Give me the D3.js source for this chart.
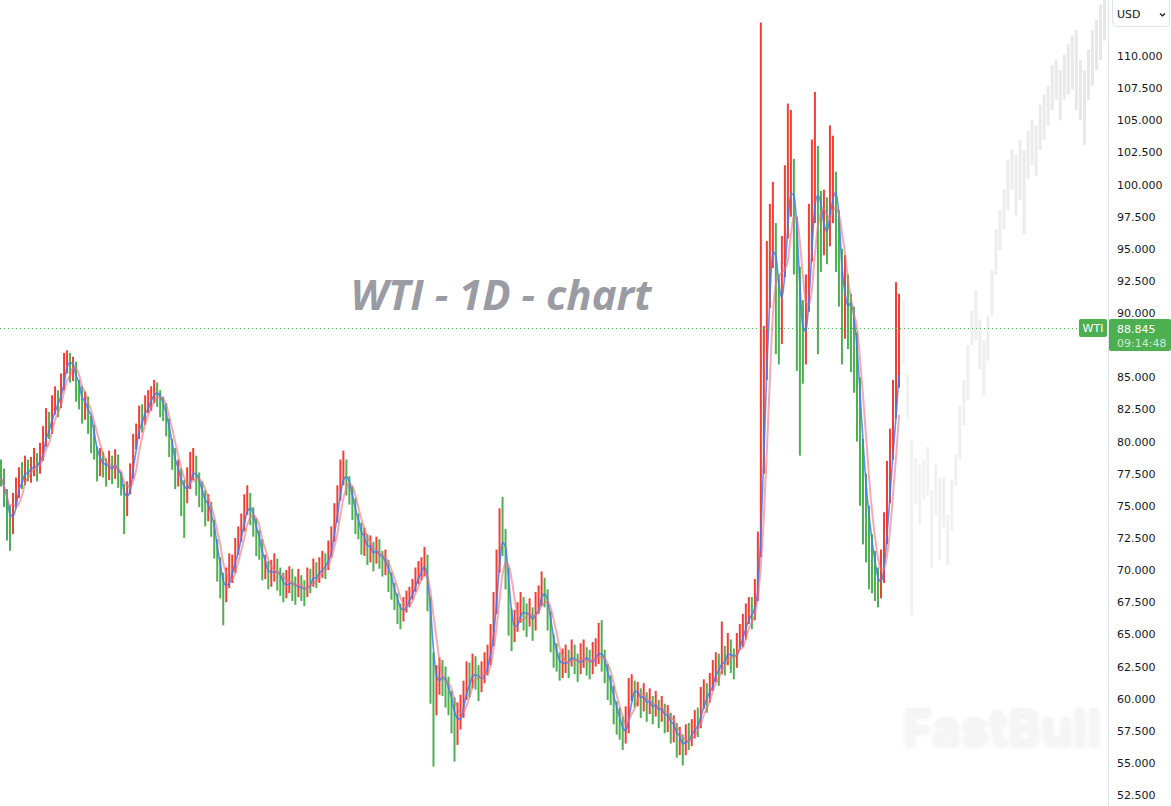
<!DOCTYPE html>
<html>
<head>
<meta charset="utf-8">
<script src="https://cdn.jsdelivr.net/npm/d3@7"></script>
<style>
body { margin: 0; background: #fff; overflow: hidden; }
svg { display: block; }
</style>
</head>
<body>
<div id="chart"></div>
<script>
// daily closes, highs, lows
var closes = [
    77.2, 75.8, 74.0, 73.2, 75.4, 76.0, 77.3, 77.0, 78.1, 77.6,
    77.9, 78.6, 77.8, 79.0, 80.1, 81.4, 81.0, 82.5, 83.4, 82.9,
    84.4, 86.2, 86.8, 85.4, 85.9, 84.0, 83.9, 82.3, 83.2, 81.9,
    81.0, 79.4, 78.0, 78.9, 78.1, 77.6, 78.5, 77.5, 78.6, 77.3,
    76.4, 74.6, 76.3, 77.5, 79.8, 80.6, 82.1, 81.6, 82.9, 83.1,
    83.5, 84.2, 83.6, 82.8, 82.6, 81.2, 79.6, 78.9, 77.4, 77.6,
    76.2, 75.8, 77.0, 77.4, 78.2, 76.8, 76.0, 75.8, 74.6, 75.0,
    73.4, 72.0, 70.2, 69.4, 67.9, 69.1, 70.0, 70.1, 71.6, 72.4,
    73.5, 74.8, 75.4, 74.2, 73.6, 72.3, 71.9, 70.1, 70.3, 69.4,
    69.9, 70.2, 69.5, 69.1, 68.6, 68.9, 69.3, 68.8, 68.4, 69.0,
    68.5, 68.1, 69.3, 69.0, 69.8, 69.4, 70.1, 70.5, 70.2, 71.4,
    72.6, 74.3, 75.8, 77.2, 78.0, 76.6, 76.0, 74.8, 73.6, 73.4,
    72.0, 72.4, 71.3, 71.8, 70.9, 71.7, 71.0, 70.5, 70.6, 69.3,
    68.6, 67.8, 67.0, 66.5, 67.2, 67.6, 68.0, 68.6, 69.5, 69.9,
    70.2, 70.6, 67.4, 63.2, 60.8, 61.4, 62.0, 61.6, 61.0, 60.0,
    59.2, 57.8, 58.4, 59.0, 60.4, 61.6, 61.2, 62.4, 61.9, 61.0,
    61.8, 62.5, 63.0, 64.6, 67.2, 70.4, 73.4, 72.6, 69.4, 66.2,
    64.9, 65.8, 66.4, 67.1, 66.6, 66.2, 66.8, 65.6, 67.2, 67.8,
    68.6, 68.0, 66.4, 64.5, 63.4, 63.2, 62.3, 62.8, 63.1, 62.7,
    63.7, 62.8, 62.4, 63.2, 63.4, 62.9, 62.6, 63.1, 63.6, 63.8,
    63.0, 62.2, 61.0, 60.6, 59.1, 58.4, 58.0, 56.9, 57.6, 60.6,
    60.9, 60.2, 60.5, 59.6, 60.3, 59.2, 59.9, 59.0, 59.7, 58.7,
    59.2, 58.4, 58.6, 57.6, 57.8, 56.6, 56.9, 55.9, 57.1, 57.0,
    57.4, 58.2, 58.0, 59.6, 60.4, 60.0, 61.1, 61.8, 62.5, 62.3,
    63.3, 62.9, 64.2, 63.1, 62.7, 64.2, 64.9, 65.0, 66.4, 66.9,
    66.3, 68.0, 71.5, 79.0, 86.0, 92.0, 95.5, 96.8, 91.0, 89.0,
    93.5, 96.8, 99.9, 101.2, 96.4, 92.2, 87.9, 86.8, 91.0, 95.3,
    98.2, 101.5, 97.8, 96.2, 96.9, 96.0, 99.6, 101.0, 97.6, 94.2,
    89.0, 91.6, 91.0, 89.8, 88.2, 84.0, 79.5, 76.8, 74.0, 72.3,
    70.6, 69.3, 68.4, 69.6, 72.5, 75.8, 79.0, 82.2, 84.5, 88.845
]
var highs = [
    78.6, 77.9, 76.3, 75.0, 76.0, 77.2, 78.0, 78.4, 78.9, 78.6,
    78.8, 79.5, 79.1, 79.9, 81.2, 82.6, 82.3, 83.6, 84.3, 84.0,
    85.3, 86.9, 87.1, 86.9, 86.6, 86.2, 84.8, 84.3, 83.9, 83.5,
    82.0, 81.3, 79.6, 79.5, 79.2, 78.7, 79.3, 78.9, 79.4, 79.0,
    77.6, 76.7, 76.9, 78.3, 80.6, 81.4, 82.8, 82.9, 83.6, 84.0,
    84.3, 84.8, 84.6, 84.0, 83.5, 83.0, 81.8, 80.2, 79.5, 78.6,
    77.9, 77.0, 78.0, 79.2, 79.5, 78.9, 77.6, 76.9, 76.2, 75.9,
    75.3, 73.9, 72.4, 71.0, 69.8, 70.2, 71.3, 71.2, 72.5, 73.4,
    74.4, 75.9, 76.6, 76.0, 74.9, 74.0, 73.1, 72.4, 71.2, 70.7,
    70.8, 71.3, 70.9, 70.2, 69.8, 70.0, 70.3, 70.1, 69.5, 70.1,
    69.6, 69.2, 70.2, 70.1, 70.9, 70.6, 71.0, 71.5, 71.3, 72.3,
    73.4, 75.2, 76.6, 78.6, 79.3, 78.6, 77.3, 76.5, 75.6, 74.4,
    73.7, 73.3, 72.8, 72.7, 72.2, 72.6, 72.4, 71.5, 71.6, 70.8,
    69.8, 69.0, 68.2, 67.4, 67.9, 68.4, 68.7, 69.3, 70.2, 70.7,
    71.0, 71.8, 71.2, 67.9, 63.6, 62.6, 63.2, 63.0, 62.5, 61.7,
    60.6, 60.1, 59.7, 60.3, 61.4, 62.9, 62.8, 63.5, 63.3, 62.6,
    62.9, 63.6, 64.2, 65.8, 68.3, 71.6, 74.8, 75.7, 73.2, 70.2,
    67.0, 66.9, 67.5, 68.3, 67.9, 67.4, 67.8, 67.1, 68.3, 68.8,
    69.9, 69.4, 68.5, 66.8, 65.0, 64.3, 63.6, 63.9, 64.2, 63.8,
    64.6, 64.2, 63.5, 64.3, 64.6, 64.0, 63.8, 64.4, 64.7, 65.9,
    66.1, 63.8, 62.7, 61.8, 61.0, 59.8, 59.3, 58.6, 59.4, 61.6,
    61.9, 61.4, 61.3, 60.8, 61.2, 60.5, 60.8, 60.2, 60.6, 59.9,
    60.2, 59.6, 59.5, 58.9, 58.7, 58.1, 57.8, 57.2, 58.0, 58.1,
    58.4, 59.1, 59.3, 60.9, 61.5, 61.2, 62.0, 63.0, 63.6, 63.5,
    66.0, 64.1, 65.1, 64.6, 63.9, 65.1, 65.8, 66.6, 67.4, 67.9,
    67.9, 69.3, 73.0, 112.6, 89.0, 95.6, 98.5, 100.2, 97.0, 93.0,
    96.0, 101.5, 106.3, 105.8, 102.0, 97.5, 93.6, 91.0, 93.0, 98.5,
    103.5, 107.2, 103.0, 99.5, 99.6, 99.0, 104.6, 103.8, 101.0, 98.0,
    95.0, 94.5, 93.0, 91.5, 90.5, 88.5, 85.0, 80.2, 77.5, 75.0,
    72.8, 71.5, 70.2, 71.6, 74.5, 78.5, 81.0, 84.8, 92.4, 91.5
]
var lows = [
    76.5, 74.9, 72.3, 71.5, 72.8, 74.8, 75.6, 76.3, 76.6, 76.9,
    76.8, 77.3, 76.9, 77.5, 78.5, 79.6, 80.2, 80.6, 82.1, 81.9,
    82.6, 84.0, 85.3, 84.6, 84.7, 83.1, 82.5, 81.4, 81.7, 80.6,
    79.1, 78.6, 76.9, 77.3, 77.2, 76.5, 77.0, 76.7, 77.1, 76.4,
    75.8, 72.8, 74.2, 75.9, 77.1, 79.4, 80.2, 80.7, 81.3, 82.2,
    82.4, 83.0, 82.7, 81.9, 81.6, 80.4, 78.8, 77.8, 76.3, 76.5,
    74.2, 72.5, 75.2, 76.3, 77.0, 75.8, 74.9, 74.5, 73.4, 73.8,
    72.6, 70.9, 69.1, 67.8, 65.7, 67.5, 68.6, 69.0, 69.8, 71.2,
    72.2, 73.0, 74.3, 73.5, 72.6, 71.1, 70.8, 69.2, 69.3, 68.5,
    68.7, 69.1, 68.4, 68.0, 67.5, 67.8, 68.2, 67.6, 67.3, 67.9,
    67.6, 67.2, 67.9, 68.2, 68.7, 68.6, 69.0, 69.4, 69.3, 70.0,
    71.0, 72.2, 73.7, 75.4, 76.6, 75.8, 75.1, 73.9, 72.8, 72.4,
    71.2, 71.1, 70.4, 70.6, 69.9, 70.5, 70.1, 69.5, 69.6, 68.3,
    67.7, 66.9, 65.8, 65.4, 66.0, 66.7, 67.1, 67.7, 68.3, 68.9,
    69.2, 69.5, 66.8, 59.6, 54.7, 58.7, 60.3, 60.2, 59.3, 58.7,
    57.3, 55.1, 56.4, 57.6, 58.5, 59.9, 60.1, 60.8, 60.7, 59.8,
    60.5, 61.2, 61.8, 62.6, 64.1, 66.6, 69.8, 71.1, 68.5, 64.9,
    63.7, 64.4, 65.2, 65.9, 65.3, 64.8, 65.6, 64.5, 65.3, 66.6,
    67.2, 67.1, 65.3, 63.6, 62.4, 62.1, 61.4, 61.6, 62.0, 61.6,
    62.5, 61.9, 61.3, 61.9, 62.4, 61.8, 61.5, 61.9, 62.5, 62.7,
    62.1, 61.2, 59.9, 59.5, 58.0, 57.2, 56.8, 56.0, 56.5, 57.3,
    59.8, 59.3, 59.4, 58.5, 59.0, 58.2, 58.8, 58.0, 58.6, 57.7,
    58.2, 57.3, 57.4, 56.5, 56.6, 55.4, 55.6, 54.8, 55.6, 56.0,
    56.3, 56.9, 57.0, 57.7, 59.2, 58.9, 59.7, 60.6, 61.3, 61.0,
    61.9, 61.8, 62.6, 62.0, 61.5, 62.4, 63.8, 64.0, 64.6, 65.8,
    65.4, 66.1, 67.6, 71.0, 77.5, 84.8, 90.4, 93.5, 86.8, 86.0,
    87.6, 92.8, 95.8, 97.5, 93.0, 85.5, 78.9, 84.5, 86.0, 90.1,
    94.0, 97.0, 86.8, 93.2, 94.5, 93.8, 95.2, 97.0, 93.2, 90.5,
    86.0, 88.0, 87.2, 85.4, 83.8, 80.0, 75.0, 72.0, 70.6, 68.5,
    68.2, 67.6, 67.1, 67.8, 69.0, 72.0, 75.2, 78.6, 81.8, 84.2
]

// faded bars on the right side of the picture
var ghostHighs = [
    91.0, 85.2, 80.1, 78.7, 78.2, 78.6, 79.6, 76.2, 78.2, 77.2,
    77.2, 74.3, 77.0, 79.0, 82.8, 84.8, 87.5, 90.2, 91.8, 89.5,
    87.9, 89.8, 93.3, 96.5, 98.0, 99.6, 101.9, 102.7, 102.3, 103.5,
    102.7, 104.2, 105.0, 104.6, 106.2, 107.0, 107.7, 109.3, 109.7, 108.9,
    110.1, 110.9, 111.6, 112.0, 109.7, 108.9, 110.5, 112.0, 112.8, 114.0,
    114.4
]
var ghostLows = [
    86.0, 81.7, 66.5, 75.1, 73.5, 75.5, 75.8, 70.2, 74.3, 70.8,
    73.3, 70.4, 73.1, 76.6, 78.6, 81.3, 83.2, 87.5, 87.9, 85.6,
    83.6, 86.3, 89.8, 93.0, 94.9, 96.5, 98.0, 99.6, 97.6, 98.8,
    96.1, 100.4, 101.5, 100.7, 102.7, 103.5, 104.6, 105.8, 106.6, 105.0,
    106.6, 107.0, 107.4, 105.8, 105.0, 103.1, 106.6, 107.7, 108.9, 109.7,
    111.2
]

// 87.500 sits under the price tag in the picture, so it is not listed
var yTicks = [52.5, 55, 57.5, 60, 62.5, 65, 67.5, 70, 72.5, 75, 77.5, 80,
    82.5, 85, 90, 92.5, 95, 97.5, 100, 102.5, 105, 107.5, 110]

var symbol = "WTI"
var lastPrice = 88.845
var lastTime = "09:14:48"
var currency = "USD"
var title = "WTI - 1D - chart"

var W = 1171, H = 806
var axisX = 1108
var green = "#4caf50", red = "#f23d33"

var svg = d3.select("#chart").append("svg")
    .attr("width", W)
    .attr("height", H)
    .style("font-family", "'DejaVu Sans', Verdana, sans-serif")

var defs = svg.append("defs")
var shadow = defs.append("filter").attr("id", "wmShadow")
    .attr("x", "-10%").attr("y", "-20%").attr("width", "120%").attr("height", "160%")
shadow.append("feDropShadow")
    .attr("dx", 0).attr("dy", 2).attr("stdDeviation", 2.5)
    .attr("flood-color", "#000").attr("flood-opacity", 0.07)

var y = d3.scaleLinear().domain([52.5, 110]).range([795, 56])
var x = d3.scaleBand().domain(d3.range(closes.length)).range([0, 900]).paddingInner(0.34)
var gx = d3.scaleBand().domain(d3.range(ghostHighs.length)).range([902, 1106]).paddingInner(0.25)
var ghostOpacity = d3.scaleLinear().domain([0, ghostHighs.length - 1]).range([0.3, 0.6])

// watermark
svg.append("text")
    .text("FastBull")
    .attr("x", 903)
    .attr("y", 745)
    .attr("textLength", 198)
    .attr("lengthAdjust", "spacingAndGlyphs")
    .style("font-family", "Inter, 'Open Sans', sans-serif")
    .style("font-weight", 800)
    .style("font-size", "51px")
    .style("fill", "#f5f5f5")
    .attr("filter", "url(#wmShadow)")

// title
svg.append("text")
    .text(title)
    .attr("x", 501)
    .attr("y", 310)
    .attr("text-anchor", "middle")
    .style("font-family", "'Open Sans', 'DejaVu Sans', sans-serif")
    .style("font-weight", 700)
    .style("font-style", "italic")
    .style("font-size", "42px")
    .style("fill", "#9a9ba3")

// faded projection bars
svg.append("g").selectAll("rect")
    .data(ghostHighs)
    .enter()
    .append("rect")
    .attr("x", (d, i) => gx(i))
    .attr("width", gx.bandwidth())
    .attr("y", d => y(d))
    .attr("height", (d, i) => y(ghostLows[i]) - y(d))
    .attr("fill", "#d6d6d6")
    .attr("opacity", (d, i) => ghostOpacity(i))

// candles (red = up, green = down)
var opens = closes.map((d, i) => i > 0 ? closes[i - 1] : d)
svg.append("g").selectAll("rect")
    .data(closes)
    .enter()
    .append("rect")
    .attr("x", (d, i) => x(i))
    .attr("width", x.bandwidth())
    .attr("y", (d, i) => y(highs[i]))
    .attr("height", (d, i) => Math.max(1, y(lows[i]) - y(highs[i])))
    .attr("fill", (d, i) => d > opens[i] ? red : green)

// moving averages
function sma(arr, n) {
    return arr.map((d, i) => d3.mean(arr.slice(Math.max(0, i - n + 1), i + 1)))
}
var maFast = sma(closes, 3)
var maSlow = sma(closes, 5)
var line = d3.line()
    .x((d, i) => x(i) + x.bandwidth() / 2)
    .y(d => y(d))
    .curve(d3.curveMonotoneX)

svg.append("path")
    .datum(maFast)
    .attr("d", line)
    .attr("fill", "none")
    .attr("stroke", "#3f7bf4")
    .attr("stroke-width", 1.6)
    .attr("opacity", 0.85)

svg.append("path")
    .datum(maSlow)
    .attr("d", line)
    .attr("fill", "none")
    .attr("stroke", "#f4707c")
    .attr("stroke-width", 2)
    .attr("opacity", 0.6)

// last price dotted line
svg.append("line")
    .attr("x1", 0)
    .attr("x2", 1079)
    .attr("y1", Math.round(y(lastPrice)) + 0.5)
    .attr("y2", Math.round(y(lastPrice)) + 0.5)
    .attr("stroke", green)
    .attr("stroke-width", 1)
    .attr("stroke-dasharray", "1,3")

// price axis
svg.append("line")
    .attr("x1", axisX + 0.5)
    .attr("x2", axisX + 0.5)
    .attr("y1", 0)
    .attr("y2", H)
    .attr("stroke", "#e0e3eb")

var axis = svg.append("g")
    .attr("transform", "translate(" + axisX + ",0)")
    .call(d3.axisRight(y).tickValues(yTicks).tickFormat(d3.format(".3f")).tickSize(0).tickPadding(9))
axis.select(".domain").remove()
axis.selectAll("text")
    .style("font-family", "'DejaVu Sans', Verdana, sans-serif")
    .style("font-size", "11px")
    .style("fill", "#131722")

// last price labels
var py = Math.round(y(lastPrice))
svg.append("rect")
    .attr("x", 1079)
    .attr("y", py - 9)
    .attr("width", 28)
    .attr("height", 18)
    .attr("rx", 2)
    .attr("fill", green)
svg.append("text")
    .text(symbol)
    .attr("x", 1093)
    .attr("y", py + 4)
    .attr("text-anchor", "middle")
    .style("font-size", "11px")
    .style("fill", "#fff")

svg.append("rect")
    .attr("x", 1109)
    .attr("y", py - 9)
    .attr("width", 62)
    .attr("height", 32)
    .attr("rx", 2)
    .attr("fill", green)
svg.append("text")
    .text(d3.format(".3f")(lastPrice))
    .attr("x", 1117)
    .attr("y", py + 5)
    .style("font-size", "11px")
    .style("fill", "#fff")
svg.append("text")
    .text(lastTime)
    .attr("x", 1117)
    .attr("y", py + 19)
    .style("font-size", "11px")
    .style("fill", "rgba(255,255,255,0.75)")

// currency selector
svg.append("rect")
    .attr("x", 1112.5)
    .attr("y", -4.5)
    .attr("width", 57)
    .attr("height", 31)
    .attr("rx", 4)
    .attr("fill", "#fff")
    .attr("stroke", "#e0e3eb")
svg.append("text")
    .text(currency)
    .attr("x", 1117)
    .attr("y", 18)
    .style("font-size", "11px")
    .style("fill", "#131722")
svg.append("path")
    .attr("d", "M1160,13.5 L1162.5,16 L1165,13.5")
    .attr("fill", "none")
    .attr("stroke", "#131722")
    .attr("stroke-width", 1.2)
</script>
</body>
</html>
